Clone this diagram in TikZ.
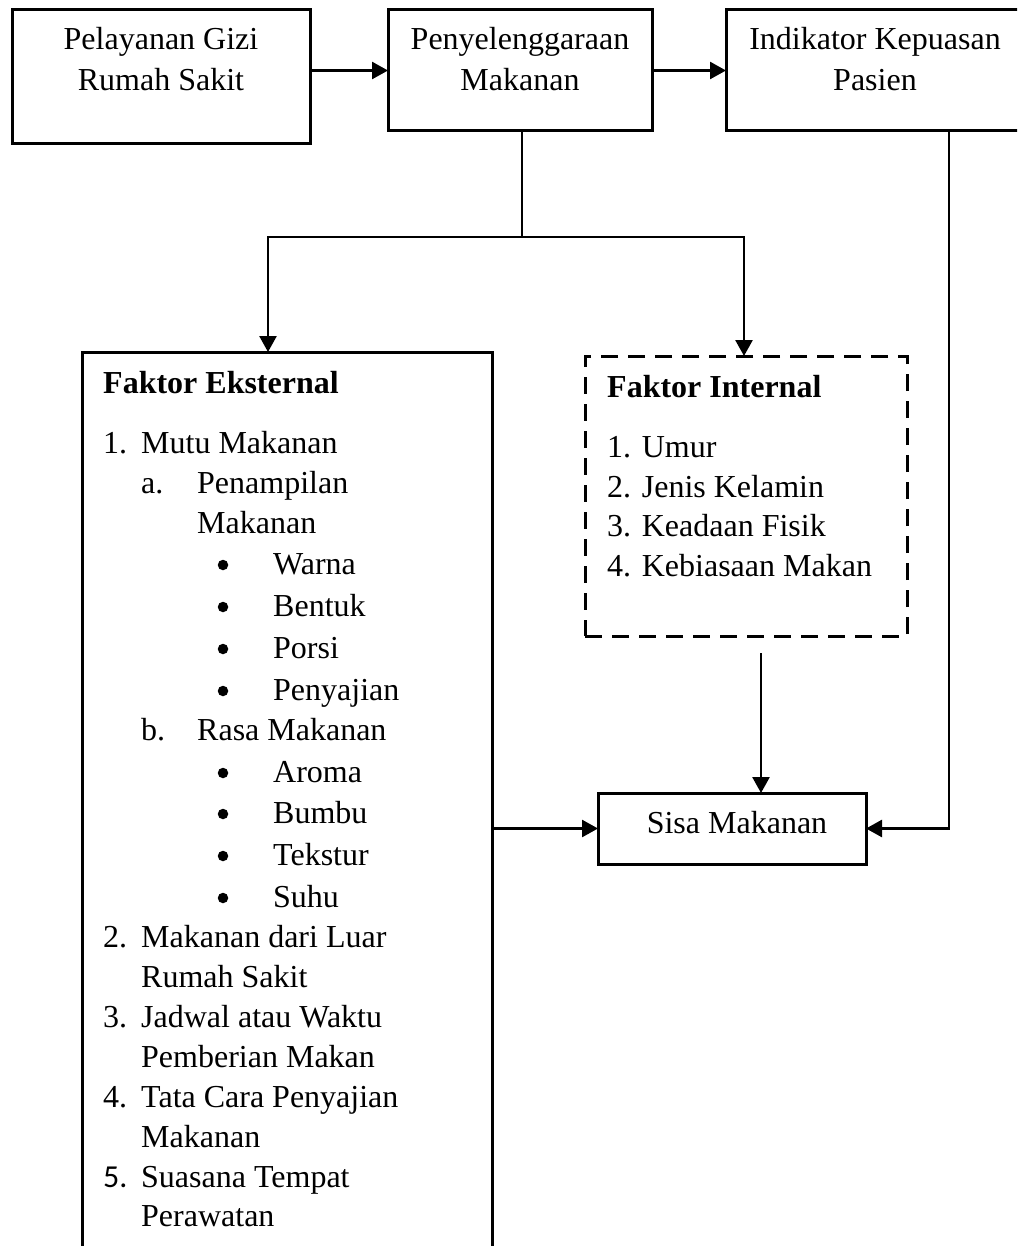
\documentclass[tikz,border=0pt]{standalone}
\usepackage{fontspec}
\setmainfont{Liberation Serif}
\newfontfamily\numfont{Carlito}
\usetikzlibrary{arrows.meta}
\begin{document}
\begin{tikzpicture}[x=1pt,y=-1pt,
  box/.style={draw, line width=3pt, inner sep=0pt, outer sep=0pt},
  dbox/.style={box, dash pattern=on 17pt off 10pt},
  conn/.style={line width=2.6pt},
  arr/.style={conn, -{Triangle[length=16pt,width=17pt]}},
  txt/.style={inner sep=0pt, anchor=base, font=\fontsize{32}{40}\selectfont},
  ltxt/.style={txt, anchor=base west},
  btxt/.style={ltxt, font=\fontsize{32}{40}\selectfont\bfseries},
  bul/.style={circle, fill, inner sep=0pt, minimum size=10.5pt}]
\useasboundingbox (0,0) rectangle (1017,1246);
\clip (0,0) rectangle (1017,1246);

% boxes
\node[box, minimum width=298pt, minimum height=134pt] (b1) at (161,77) {};
\node[box, minimum width=264pt, minimum height=121pt] (b2) at (520,70.5) {};
\node[box, minimum width=298pt, minimum height=121pt] (b3) at (875,70.5) {};
\node[box, minimum width=410pt, minimum height=918pt] (ext) at (287,811) {};
\node[dbox, minimum width=322pt, minimum height=280pt] (int) at (746,496) {};
\node[box, minimum width=268pt, minimum height=71pt] (sisa) at (732,828.5) {};

% top texts
\node[txt] (t1a) at (161,50) {Pelayanan Gizi};
\node[txt] (t1b) at (161,91) {Rumah Sakit};
\node[txt] (t2a) at (520,50) {Penyelenggaraan};
\node[txt] (t2b) at (520,91) {Makanan};
\node[txt] (t3a) at (875,50) {Indikator Kepuasan};
\node[txt] (t3b) at (875,91) {Pasien};
\node[txt] (ts) at (737,833) {Sisa Makanan};

% internal factors
\node[btxt] (ih) at (607,397) {Faktor Internal};
\node[ltxt] (i1) at (607,457) {1. Umur};
\node[ltxt] (i2) at (607,497) {2. Jenis Kelamin};
\node[ltxt] (i3) at (607,536) {3. Keadaan Fisik};
\node[ltxt] (i4) at (607,576) {4. Kebiasaan Makan};

% external factors
\node[btxt] (eh) at (103,393) {Faktor Eksternal};
\node[ltxt] (n1) at (103,453) {1.};
\node[ltxt] (e1) at (141,453) {Mutu Makanan};
\node[ltxt] (na) at (141,493) {a.};
\node[ltxt] (ea1) at (197,493) {Penampilan};
\node[ltxt] (ea2) at (197,533) {Makanan};
\node[bul] (p1) at (223,565) {};
\node[ltxt] (ep1) at (273,574) {Warna};
\node[bul] (p2) at (223,607) {};
\node[ltxt] (ep2) at (273,616) {Bentuk};
\node[bul] (p3) at (223,649) {};
\node[ltxt] (ep3) at (273,658) {Porsi};
\node[bul] (p4) at (223,691) {};
\node[ltxt] (ep4) at (273,700) {Penyajian};
\node[ltxt] (nb) at (141,740) {b.};
\node[ltxt] (eb) at (197,740) {Rasa Makanan};
\node[bul] (p5) at (223,773) {};
\node[ltxt] (ep5) at (273,782) {Aroma};
\node[bul] (p6) at (223,814) {};
\node[ltxt] (ep6) at (273,823) {Bumbu};
\node[bul] (p7) at (223,856) {};
\node[ltxt] (ep7) at (273,865) {Tekstur};
\node[bul] (p8) at (223,898) {};
\node[ltxt] (ep8) at (273,907) {Suhu};
\node[ltxt] (n2) at (103,947) {2.};
\node[ltxt] (e2a) at (141,947) {Makanan dari Luar};
\node[ltxt] (e2b) at (141,987) {Rumah Sakit};
\node[ltxt] (n3) at (103,1027) {3.};
\node[ltxt] (e3a) at (141,1027) {Jadwal atau Waktu};
\node[ltxt] (e3b) at (141,1067) {Pemberian Makan};
\node[ltxt] (n4) at (103,1107) {4.};
\node[ltxt] (e4a) at (141,1107) {Tata Cara Penyajian};
\node[ltxt] (e4b) at (141,1147) {Makanan};
\node[ltxt] (n5) at (103,1187) {\numfont 5.};
\node[ltxt] (e5a) at (141,1187) {Suasana Tempat};
\node[ltxt] (e5b) at (141,1226) {Perawatan};

% connector points
\coordinate (jn) at (522,237);
\coordinate (extin) at (268,352);
\coordinate (intin) at (744,356);
\coordinate (intout) at (761,653);
\coordinate (b3out) at (949,131);

% connectors
\draw[arr] (b1.east |- b2.west) -- (b2.west);
\draw[arr] (b2.east) -- (b3.west);
\draw[conn] (b2.south -| jn) -- (jn);
\draw[arr] (jn) -| (extin);
\draw[arr] (jn) -| (intin);
\draw[arr] (intout) -- (intout |- sisa.north);
\draw[arr] (ext.east |- sisa.west) -- (sisa.west);
\draw[arr] (b3out) |- (sisa.east);
\end{tikzpicture}
\end{document}
